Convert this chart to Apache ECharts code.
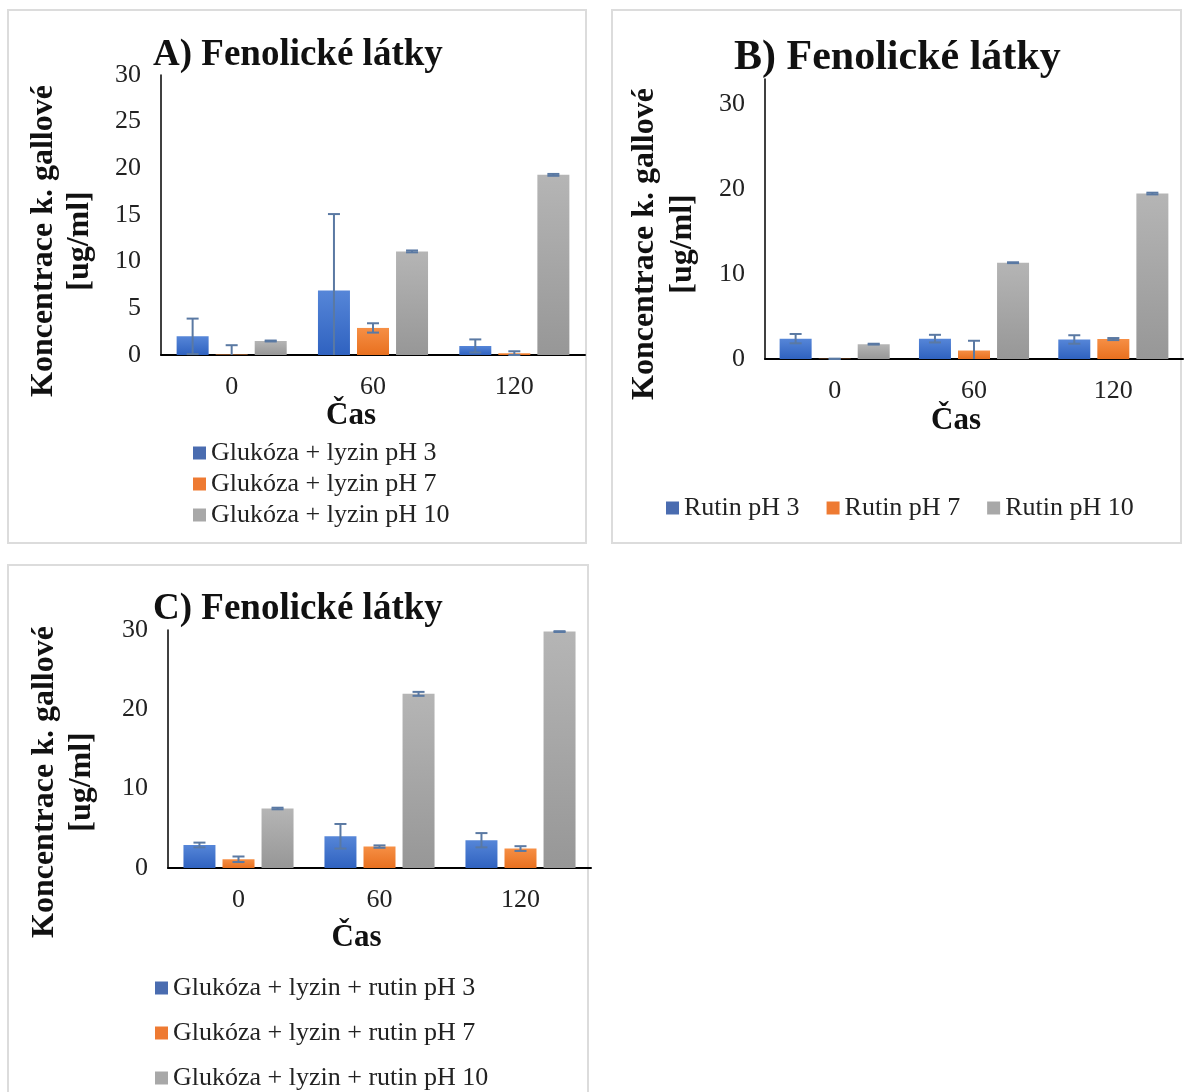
<!DOCTYPE html>
<html><head><meta charset="utf-8">
<script src="https://cdn.jsdelivr.net/npm/echarts@6/dist/echarts.min.js"></script>
<style>html,body{margin:0;padding:0;background:#fff}#c{width:1184px;height:1092px}</style>
</head><body><div id="c"></div><script>
// ---- data ----
const categories = ['0', '60', '120'];

const namesA = ['Glukóza + lyzin pH 3', 'Glukóza + lyzin pH 7', 'Glukóza + lyzin pH 10'];
const A_pH3 = [2.0, 6.9, 0.97];
const A_pH3_err = [1.9, 8.2, 0.7];
const A_pH7 = [0.05, 2.9, 0.2];
const A_pH7_err = [1.0, 0.5, 0.2];
const A_pH10 = [1.5, 11.1, 19.3];
const A_pH10_err = [0.05, 0.1, 0.1];

const namesB = ['Rutin pH 3', 'Rutin pH 7', 'Rutin pH 10'];
const B_pH3 = [2.4, 2.4, 2.3];
const B_pH3_err = [0.55, 0.45, 0.5];
const B_pH7 = [0.02, 1.0, 2.35];
const B_pH7_err = [0.02, 1.15, 0.12];
const B_pH10 = [1.75, 11.35, 19.5];
const B_pH10_err = [0.05, 0.05, 0.1];

const namesC = ['Glukóza + lyzin + rutin pH 3', 'Glukóza + lyzin + rutin pH 7', 'Glukóza + lyzin + rutin pH 10'];
const C_pH3 = [2.9, 4.0, 3.5];
const C_pH3_err = [0.3, 1.55, 0.9];
const C_pH7 = [1.1, 2.7, 2.45];
const C_pH7_err = [0.35, 0.15, 0.3];
const C_pH10 = [7.5, 21.95, 29.8];
const C_pH10_err = [0.1, 0.25, 0.05];

const titleText = ['A) Fenolické látky', 'B) Fenolické látky', 'C) Fenolické látky'];
const yTitle = 'Koncentrace k. gallové\n[ug/ml]';
const xTitle = 'Čas';

// ---- styling ----
const FONT = '"Liberation Serif", "Times New Roman", serif';
const grad = (a, b) => new echarts.graphic.LinearGradient(0, 0, 0, 1, [{offset: 0, color: a}, {offset: 1, color: b}]);
const colors = [grad('#5686d8', '#2f62c0'), grad('#f68f45', '#e8701f'), grad('#b5b5b5', '#979797')];
const legendColors = ['#4a6cb0', '#ee7a32', '#a8a8a8'];
const BW = 32, GAP = 0.22;
const offs = [-(BW + BW * GAP), 0, BW + BW * GAP];
const ERR = '#5a79a3';

function bar(name, data, g, k) {
  return {type: 'bar', name, data, xAxisIndex: g, yAxisIndex: g, barWidth: BW, barGap: (GAP * 100) + '%',
    itemStyle: {color: colors[k]}, silent: true};
}
function err(id, data, e, g, k) {
  return {type: 'custom', name: id, xAxisIndex: g, yAxisIndex: g, z: 5, silent: true,
    data: data.map((v, i) => [i, v, e[i]]),
    renderItem: (params, api) => {
      const i = api.value(0), v = api.value(1), d = api.value(2);
      const x = api.coord([i, v])[0] + offs[k];
      const yt = api.coord([i, v + d])[1];
      const low = v - d;
      const yb = api.coord([i, Math.max(0, low)])[1];
      const st = {stroke: ERR, lineWidth: 2};
      const ch = [
        {type: 'line', shape: {x1: x, y1: yt, x2: x, y2: yb}, style: st},
        {type: 'line', shape: {x1: x - 6, y1: yt, x2: x + 6, y2: yt}, style: st}
      ];
      if (low >= 0) ch.push({type: 'line', shape: {x1: x - 6, y1: yb, x2: x + 6, y2: yb}, style: st});
      return {type: 'group', children: ch};
    }};
}

const grids = [
  {left: 161, right: 599, top: 75, bottom: 737},
  {left: 765, right: 1, top: 79, bottom: 733},
  {left: 168, right: 593, top: 630, bottom: 224}
];
const yMax = [30, 33, 30];
const yInt = [5, 10, 10];
const xNamePad = [[0, 44, 0, 0], [0, 36, 0, 0], [0, 46, 0, 0]];
const xNameGap = [42, 46, 54];
const xLabelMargin = [19, 19, 19];

const xAxes = grids.map((g, i) => ({
  type: 'category', gridIndex: i, data: categories,
  axisLine: {lineStyle: {color: '#000', width: 2}}, axisTick: {show: false},
  axisLabel: {fontFamily: FONT, fontSize: 26, color: '#222', margin: xLabelMargin[i]},
  name: xTitle, nameLocation: 'middle', nameGap: xNameGap[i],
  nameTextStyle: {fontFamily: FONT, fontSize: 31, fontWeight: 'bold', color: '#111', padding: xNamePad[i]}
}));
const yAxes = grids.map((g, i) => ({
  type: 'value', gridIndex: i, min: 0, max: yMax[i], interval: yInt[i],
  axisLine: {show: true, lineStyle: {color: '#000', width: 1.5}}, axisTick: {show: false},
  splitLine: {show: false},
  axisLabel: {fontFamily: FONT, fontSize: 26, color: '#222', margin: 20, showMaxLabel: i !== 1}
}));

const series = [
  bar(namesA[0], A_pH3, 0, 0), bar(namesA[1], A_pH7, 0, 1), bar(namesA[2], A_pH10, 0, 2),
  err('eA0', A_pH3, A_pH3_err, 0, 0), err('eA1', A_pH7, A_pH7_err, 0, 1), err('eA2', A_pH10, A_pH10_err, 0, 2),
  bar(namesB[0], B_pH3, 1, 0), bar(namesB[1], B_pH7, 1, 1), bar(namesB[2], B_pH10, 1, 2),
  err('eB0', B_pH3, B_pH3_err, 1, 0), err('eB1', B_pH7, B_pH7_err, 1, 1), err('eB2', B_pH10, B_pH10_err, 1, 2),
  bar(namesC[0], C_pH3, 2, 0), bar(namesC[1], C_pH7, 2, 1), bar(namesC[2], C_pH10, 2, 2),
  err('eC0', C_pH3, C_pH3_err, 2, 0), err('eC1', C_pH7, C_pH7_err, 2, 1), err('eC2', C_pH10, C_pH10_err, 2, 2)
];

const legTxt = {fontFamily: FONT, fontSize: 26, color: '#222'};
const legItems = names => names.map((n, k) => ({name: n, itemStyle: {color: legendColors[k]}}));
const legends = [
  {data: legItems(namesA), orient: 'vertical', left: 188, top: 435, height: 120, itemWidth: 13, itemHeight: 13, itemGap: 5, icon: 'rect', textStyle: legTxt, selectedMode: false},
  {data: legItems(namesB), orient: 'horizontal', left: 661, top: 490, itemWidth: 13, itemHeight: 13, itemGap: 27, icon: 'rect', textStyle: legTxt, selectedMode: false},
  {data: legItems(namesC), orient: 'vertical', left: 150, top: 970, height: 200, itemWidth: 13, itemHeight: 13, itemGap: 19, icon: 'rect', textStyle: legTxt, selectedMode: false}
];

const titles = [
  {text: titleText[0], left: 148, top: 32, textStyle: {fontFamily: FONT, fontSize: 37, fontWeight: 'bold', color: '#111'}},
  {text: titleText[1], left: 729, top: 32, textStyle: {fontFamily: FONT, fontSize: 42, fontWeight: 'bold', color: '#111'}},
  {text: titleText[2], left: 148, top: 586, textStyle: {fontFamily: FONT, fontSize: 37, fontWeight: 'bold', color: '#111'}}
];

const boxStyle = {fill: 'none', stroke: '#dcdcdc', lineWidth: 2};
const yTitleStyle = (x, y, lh) => ({type: 'text', x, y, rotation: Math.PI / 2,
  style: {text: yTitle, fontFamily: FONT, fontSize: 32, fontWeight: 'bold', fill: '#111', align: 'center', verticalAlign: 'middle', lineHeight: lh}});
const graphic = [
  {type: 'rect', shape: {x: 8, y: 10, width: 578, height: 533}, style: boxStyle, z: -10},
  {type: 'rect', shape: {x: 612, y: 10, width: 569, height: 533}, style: boxStyle, z: -10},
  {type: 'rect', shape: {x: 8, y: 565, width: 580, height: 540}, style: boxStyle, z: -10},
  yTitleStyle(62, 241, 36),
  yTitleStyle(664, 244, 38),
  yTitleStyle(63, 782, 37)
];

const chart = echarts.init(document.getElementById('c'), null, {renderer: 'canvas'});
chart.setOption({
  backgroundColor: '#fff', animation: false,
  title: titles, legend: legends, grid: grids, xAxis: xAxes, yAxis: yAxes, series, graphic
});
</script></body></html>
